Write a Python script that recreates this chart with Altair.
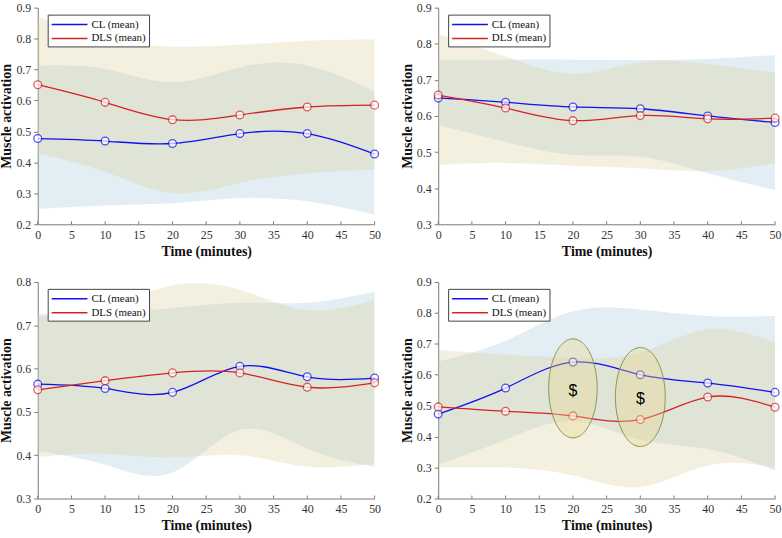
import altair as alt
import numpy as np
import pandas as pd

# sampling times and axis ticks
times = [0, 10, 20, 30, 40, 50]
x_ticks = [0, 5, 10, 15, 20, 25, 30, 35, 40, 45, 50]
series_names = ["CL (mean)", "DLS (mean)"]

# top-left panel
a_cl_mean = [0.477, 0.469, 0.461, 0.493, 0.493, 0.427]
a_cl_hi = [0.713, 0.702, 0.659, 0.707, 0.713, 0.629]
a_cl_lo = [0.250, 0.261, 0.268, 0.285, 0.274, 0.231]
a_dls_mean = [0.651, 0.594, 0.538, 0.553, 0.579, 0.585]
a_dls_hi = [0.870, 0.800, 0.774, 0.780, 0.793, 0.798]
a_dls_lo = [0.429, 0.370, 0.301, 0.333, 0.365, 0.376]
a_y_ticks = [0.2, 0.3, 0.4, 0.5, 0.6, 0.7, 0.8, 0.9]

# top-right panel
b_cl_mean = [0.650, 0.638, 0.625, 0.620, 0.600, 0.582]
b_cl_hi = [0.756, 0.756, 0.756, 0.755, 0.758, 0.769]
b_cl_lo = [0.574, 0.528, 0.492, 0.487, 0.441, 0.395]
b_dls_mean = [0.658, 0.622, 0.587, 0.601, 0.592, 0.594]
b_dls_hi = [0.827, 0.765, 0.717, 0.749, 0.744, 0.721]
b_dls_lo = [0.464, 0.470, 0.462, 0.455, 0.447, 0.469]
b_y_ticks = [0.3, 0.4, 0.5, 0.6, 0.7, 0.8, 0.9]

# bottom-left panel
c_cl_mean = [0.564, 0.554, 0.545, 0.605, 0.581, 0.578]
c_cl_hi = [0.725, 0.730, 0.740, 0.752, 0.752, 0.777]
c_cl_lo = [0.409, 0.378, 0.360, 0.458, 0.415, 0.373]
c_dls_mean = [0.551, 0.572, 0.590, 0.590, 0.557, 0.567]
c_dls_hi = [0.721, 0.741, 0.792, 0.782, 0.735, 0.759]
c_dls_lo = [0.396, 0.403, 0.395, 0.400, 0.374, 0.380]
c_y_ticks = [0.3, 0.4, 0.5, 0.6, 0.7, 0.8]

# bottom-right panel
d_cl_mean = [0.473, 0.557, 0.641, 0.600, 0.573, 0.543]
d_cl_hi = [0.643, 0.710, 0.805, 0.811, 0.790, 0.790]
d_cl_lo = [0.310, 0.390, 0.450, 0.390, 0.360, 0.290]
d_dls_mean = [0.496, 0.482, 0.467, 0.455, 0.528, 0.495]
d_dls_hi = [0.680, 0.665, 0.655, 0.672, 0.747, 0.705]
d_dls_lo = [0.300, 0.300, 0.275, 0.237, 0.307, 0.300]
d_y_ticks = [0.2, 0.3, 0.4, 0.5, 0.6, 0.7, 0.8, 0.9]

# significance markers in the bottom-right panel
ell_cx = [20, 30]
ell_cy = [0.556, 0.528]
ell_rx = [3.6, 3.7]
ell_ry = [0.160, 0.160]
sig_x = [20, 30]
sig_y = [0.547, 0.521]
sig_text = ["$", "$"]

W, H = 339, 218
BLUE = "#1010f0"
RED = "#d42222"
BAND_CL = "#a3c6dc"
BAND_DLS = "#dccd96"
AXIS = "#7a7a7a"
SERIF = "Liberation Serif"


def frame(mean, lo, hi, name):
    return pd.DataFrame({"t": times, "mean": mean, "lo": lo, "hi": hi, "series": name})


def panel(cl, dls, y_domain, y_ticks, marks=False):
    df_cl = frame(*cl, series_names[0])
    df_dls = frame(*dls, series_names[1])
    df = pd.concat([df_cl, df_dls], ignore_index=True)

    xs = alt.Scale(domain=[0, 50], nice=False)
    ys = alt.Scale(domain=y_domain, nice=False)
    x_axis = alt.Axis(
        values=x_ticks, format="d", title="Time (minutes)", grid=False,
        ticks=False, tickSize=0, labelPadding=5, titlePadding=4,
        labelOverlap=False, labelFlush=False,
        labelFont=SERIF, labelFontSize=12, labelColor="#333",
        titleFont=SERIF, titleFontSize=14, titleFontWeight="bold", titleColor="#111",
        domainColor=AXIS,
    )
    y_axis = alt.Axis(
        values=y_ticks, format=".1f", title="Muscle activation", grid=False,
        tickSize=4, tickColor=AXIS, labelPadding=3, titlePadding=2,
        labelOverlap=False, labelFlush=False,
        labelFont=SERIF, labelFontSize=12, labelColor="#333",
        titleFont=SERIF, titleFontSize=14, titleFontWeight="bold", titleColor="#111",
        domainColor=AXIS,
    )
    color_scale = alt.Scale(domain=series_names, range=[BLUE, RED])

    # every layer carries the same axis definition so the merged axis keeps it
    def X(field):
        return alt.X(field, type="quantitative", scale=xs, axis=x_axis)

    def Y(field):
        return alt.Y(field, type="quantitative", scale=ys, axis=y_axis)

    band_cl = alt.Chart(df_cl).mark_area(
        interpolate="natural", color=BAND_CL, opacity=0.3, clip=True
    ).encode(x=X("t"), y=Y("lo"), y2="hi:Q")
    band_dls = alt.Chart(df_dls).mark_area(
        interpolate="natural", color=BAND_DLS, opacity=0.3, clip=True
    ).encode(x=X("t"), y=Y("lo"), y2="hi:Q")

    inner_ticks = alt.Chart(pd.DataFrame({"v": x_ticks})).mark_rule(
        color=AXIS, strokeWidth=1
    ).encode(x=X("v"), y=alt.value(H), y2=alt.value(H - 3))

    lines = alt.Chart(df).mark_line(interpolate="natural", strokeWidth=1.3).encode(
        x=X("t"),
        y=Y("mean"),
        color=alt.Color(
            "series:N", scale=color_scale,
            legend=alt.Legend(
                title=None, orient="none", legendX=10, legendY=7,
                symbolType="M -1 0 L 5 0", symbolSize=144, symbolStrokeWidth=1.5,
                labelOffset=27, labelFont=SERIF, labelFontSize=11, labelColor="#111",
                rowPadding=2, padding=3, fillColor="white", strokeColor="#444",
            ),
        ),
    )
    points = alt.Chart(df).mark_point(
        shape="circle", size=62, filled=True, fill="white", strokeWidth=1.3
    ).encode(
        x=X("t"),
        y=Y("mean"),
        stroke=alt.Stroke("series:N", scale=color_scale, legend=None),
    )

    layers = [band_cl, band_dls, inner_ticks, lines, points]

    if marks:
        rows = []
        theta = np.linspace(np.pi, 0, 73)
        for i in range(len(ell_cx)):
            for th in theta:
                rows.append({
                    "id": i,
                    "x": ell_cx[i] + ell_rx[i] * np.cos(th),
                    "top": ell_cy[i] + ell_ry[i] * np.sin(th),
                    "bot": ell_cy[i] - ell_ry[i] * np.sin(th),
                })
        ell = alt.Chart(pd.DataFrame(rows)).mark_area(
            fill="#e9d68c", fillOpacity=0.36, stroke="#7f9652", strokeWidth=1
        ).encode(x=X("x"), y=Y("top"), y2="bot:Q", detail="id:N")
        sig = alt.Chart(pd.DataFrame({"x": sig_x, "y": sig_y, "s": sig_text})).mark_text(
            font="Liberation Sans", fontSize=16, color="black", baseline="middle"
        ).encode(x=X("x"), y=Y("y"), text="s:N")
        layers += [ell, sig]

    return alt.layer(*layers).properties(width=W, height=H)


p1 = panel((a_cl_mean, a_cl_lo, a_cl_hi), (a_dls_mean, a_dls_lo, a_dls_hi), [0.2, 0.9], a_y_ticks)
p2 = panel((b_cl_mean, b_cl_lo, b_cl_hi), (b_dls_mean, b_dls_lo, b_dls_hi), [0.3, 0.9], b_y_ticks)
p3 = panel((c_cl_mean, c_cl_lo, c_cl_hi), (c_dls_mean, c_dls_lo, c_dls_hi), [0.3, 0.8], c_y_ticks)
p4 = panel((d_cl_mean, d_cl_lo, d_cl_hi), (d_dls_mean, d_dls_lo, d_dls_hi), [0.2, 0.9], d_y_ticks, marks=True)

chart = alt.concat(p1, p2, p3, p4, columns=2, spacing={"row": 18, "column": 19}).resolve_scale(
    color="independent", stroke="independent"
).properties(
    padding={"left": 0, "top": 0, "right": 0, "bottom": 0},
    background="white",
).configure_view(strokeWidth=0)

chart.save("out.html", embed_options={"renderer": "svg", "actions": False})
